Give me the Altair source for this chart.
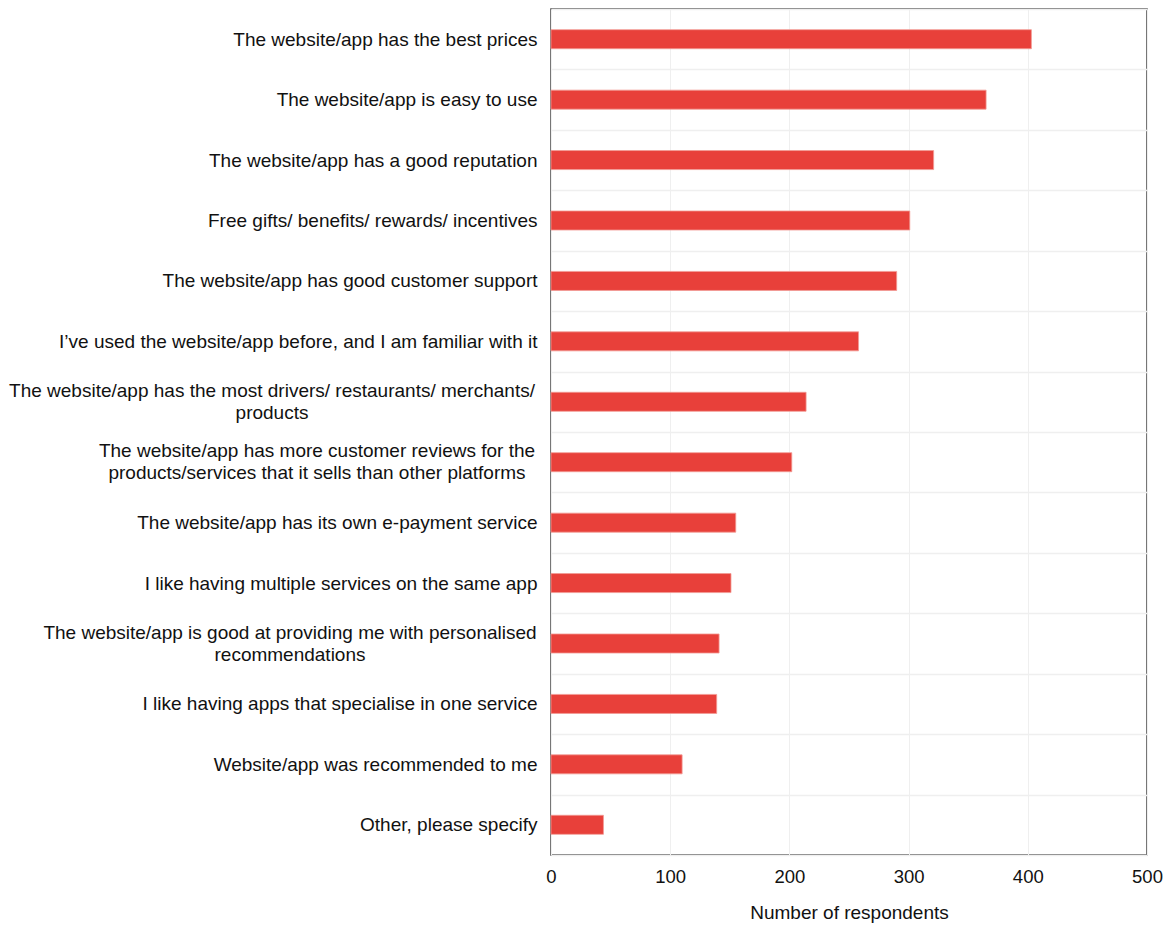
import altair as alt
import pandas as pd

categories = [
    "The website/app has the best prices",
    "The website/app is easy to use",
    "The website/app has a good reputation",
    "Free gifts/ benefits/ rewards/ incentives",
    "The website/app has good customer support",
    "I\u2019ve used the website/app before, and I am familiar with it",
    "The website/app has the most drivers/ restaurants/ merchants/|products",
    "The website/app has more customer reviews for the|products/services that it sells than other platforms",
    "The website/app has its own e-payment service",
    "I like having multiple services on the same app",
    "The website/app is good at providing me with personalised|recommendations",
    "I like having apps that specialise in one service",
    "Website/app was recommended to me",
    "Other, please specify",
]
respondents = [403, 365, 321, 301, 290, 258, 214, 202, 155, 151, 141, 139, 110, 44]
x_ticks = [0, 100, 200, 300, 400, 500]

df = pd.DataFrame({"reason": categories, "respondents": respondents})

FONT = "Liberation Sans"
TEXT_COLOR = "#111111"

y_enc = alt.Y(
    "reason:N",
    sort=categories,
    title=None,
    scale=alt.Scale(paddingInner=0, paddingOuter=0),
    axis=alt.Axis(
        tickBand="extent",
        grid=True,
        gridColor="#efefef",
        gridWidth=1.5,
        ticks=False,
        domain=False,
        labelExpr="indexof(datum.label, '|') >= 0 ? '' : datum.label",
        labelAlign="right",
        labelPadding=14,
        labelBaseline="middle",
        labelLimit=700,
        labelFont=FONT,
        labelFontSize=19,
        labelColor=TEXT_COLOR,
    ),
)

bars = alt.Chart(df).mark_bar(
    height={"band": 0.315}, color="#e8403a", stroke="#f29a94", strokeWidth=0.8
).encode(
    x=alt.X(
        "respondents:Q",
        scale=alt.Scale(domain=[0, 500], nice=False, zero=True),
        axis=alt.Axis(
            title="Number of respondents",
            values=x_ticks,
            grid=True,
            gridColor="#efefef",
            gridWidth=1,
            ticks=False,
            domain=False,
            labelFlush=False,
            labelFont=FONT,
            labelFontSize=18.5,
            labelColor=TEXT_COLOR,
            labelPadding=12,
            titleFont=FONT,
            titleFontSize=19,
            titleFontWeight="normal",
            titleColor=TEXT_COLOR,
            titlePadding=18,
        ),
    ),
    y=y_enc,
)


def wrapped_label(key, offset):
    return (
        alt.Chart(df)
        .transform_filter(f"indexof(datum.reason, '{key}') >= 0")
        .mark_text(
            align="center",
            baseline="middle",
            lineBreak="|",
            lineHeight=22,
            dy=-11,
            font=FONT,
            fontSize=19,
            color=TEXT_COLOR,
        )
        .encode(
            y=alt.Y("reason:N", sort=categories),
            x=alt.value(-offset),
            text="reason:N",
        )
    )


labels = [
    wrapped_label("drivers", 279),
    wrapped_label("customer reviews", 234),
    wrapped_label("personalised", 261),
]

chart = (
    alt.layer(bars, *labels)
    .properties(
        width=596,
        height=846,
        autosize=alt.AutoSizeParams(type="none"),
        padding={"left": 543, "top": 1, "right": 17, "bottom": 70},
    )
    .configure_view(stroke="#4a4a4a", strokeWidth=1.5)
)

chart.save("out.html", embed_options={"renderer": "svg", "actions": False})
